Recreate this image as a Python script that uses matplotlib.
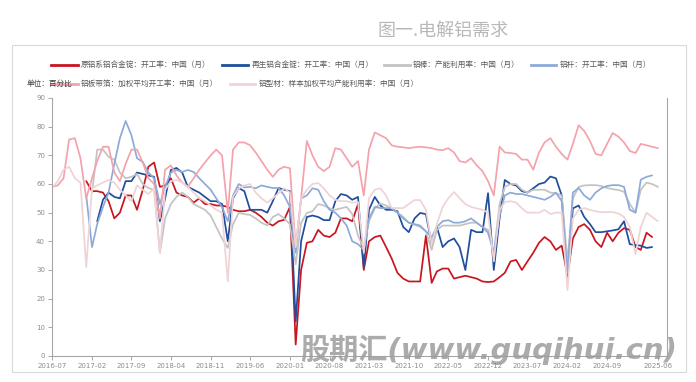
import matplotlib
matplotlib.use("Agg")
import matplotlib.pyplot as plt
import matplotlib.dates as mdates
from matplotlib.lines import Line2D
from matplotlib.patches import Rectangle
import numpy as np
import pandas as pd

plt.rcParams['font.family'] = ['Noto Sans CJK SC', 'DejaVu Sans']

# ---------------- data (monthly, 2016-07 .. 2025-06) ----------------
start = "2016-07-01"
n_months = 108
N = None

red = [N]*6 + [61, 57.5, 57.5, 57, 54, 48, 50, 56, 56, 51, 58, 66, 67.5, 59, 59.5, 62, 57, 56, 55.5, 53.5,
       55, 53, 53, 52.5, 52.5, 52, 51, 50.5, 50.5, 51, 50, 48.5, 46.5, 45.5, 47, 47.5, 52, 4, 30, 39.5,
       40, 44, 42, 41.5, 43, 48, 48, 47, 53, 30, 40, 41.5, 42, 38, 34, 29, 27, 26, 26, 26,
       42, 25.5, 29.5, 30.5, 30.5, 27, 27.5, 28, 27.5, 27, 26, 25.8, 26, 27.5, 29, 33, 33.5, 30, 33, 36,
       39.5, 41.5, 40, 37, 38.5, 28, 41, 45, 46, 44, 40, 38, 43, 40, 43, 44.6, 44, 38, 37, 43, 41.5] + [N]

dark_blue = [N]*8 + [47, 54.5, 57, 55.5, 55, 61, 61, 64, 63.5, 63, 62.5, 47, 55, 64.9, 65.6, 64, 59, 58,
       57, 55.5, 54, 54, 53, 40, 55, 58.6, 57.5, 51, 51, 51, 50, 54, 58.6, 58, 57.5, 12, 40, 48.5,
       49, 48.5, 47.4, 47.4, 54, 56.5, 56, 54.5, 55.5, 31, 51, 55.5, 52.5, 51, 51, 50.5, 45, 43.2, 48, 49.9,
       49.5, 39, 45, 38, 40, 41, 38, 30, 44, 43.2, 43.2, 56.8, 30, 48, 61.4, 60, 59.5, 57.5, 57, 58.5,
       60, 60.5, 62.6, 62, 56, 27.5, 51.5, 52.5, 48.5, 46, 43.2, 43.2, 43.5, 43.8, 44.2, 47, 39, 38.7, 38.5, 37.7,
       38] + [N]

gray = [N]*7 + [57, 72, 72, 69.5, 68.5, 64, 62, 62.5, 63.5, 60, 58.6, 58, 36, 48, 53, 55.5, 57, 55.5, 53,
       52, 51, 49, 45, 41, 37.7, 46, 49.9, 49.5, 49.2, 48, 46.5, 45.5, 48.5, 49.5, 48, 46, 32, 46.4, 49.9,
       50.5, 53, 52.5, 51.5, 51, 51.5, 52, 49.5, 42, 37.5, 47, 51.5, 53.2, 52.5, 51.5, 50, 48.5, 46.5, 45.8, 45,
       43.5, 37, 44, 45.5, 45.5, 45.5, 45.5, 46, 46.5, 46.5, 45, 44, 36, 53, 59, 60, 60, 58, 57, 58,
       58, 58, 57, 56.8, 56, 33, 55, 59, 59.5, 59.6, 59.6, 59.3, 58.6, 58.2, 57.9, 57.3, 53, 50, 58, 60.5,
       60, 59]

light_blue = [N]*6 + [56, 38, 46, 52, 57, 67, 76, 82, 77, 69, 67.7, 64, 62, 53, 59, 64, 64.9, 64.2, 64.9, 64.2,
       62, 60, 58, 55, 52, 47, 56, 60, 58.8, 59, 58.5, 59.5, 59, 58.6, 58.6, 56, 52, 36, 55, 56,
       58.5, 58, 54, 51, 50, 48, 45.5, 40, 39, 37, 48, 52, 51.6, 51.6, 51.5, 50, 48, 46.5, 46, 45.5,
       43.5, 41.5, 45, 47, 47.4, 46.5, 46.5, 47, 48, 46.5, 45, 43, 36, 49, 56, 57, 56.5, 56.5, 56, 55.5,
       55, 54.5, 55.5, 57, 54, 29, 57, 58.6, 56, 54.5, 57, 58.5, 59.3, 59.6, 59.6, 59, 51, 50, 61.5, 62.5,
       63] + [N]

pink = [59, 59.5, 62, 75.5, 76, 69, 55, 62, 68, 73, 73, 64, 61, 67, 72, 72, 67.5, 62, 60, 48,
        65, 66.5, 63, 60.5, 59, 62, 65, 67.5, 70, 72, 70, 50, 72, 74.5, 74.5, 73.5, 71, 68, 65, 62.5,
        65, 66, 65.5, 38, 55, 75, 70, 66, 64.5, 66, 72.5, 72, 69, 66, 68, 56, 72, 78, 77, 76,
        73.5, 73, 72.8, 72.5, 72.8, 73, 72.8, 72.5, 72, 71.8, 72.5, 71, 68, 67.5, 69, 66.5, 64.5, 61, 56, 73,
        71, 70.8, 70.5, 68.5, 68.5, 65, 71, 74.5, 76, 73, 70.5, 68.5, 74, 80.5, 78.5, 75, 70.5, 70, 74, 77.8,
        76.5, 74.5, 71.5, 70.8, 74, 73.5, 73, 72.5]

light_pink = [58.5, 61, 65, 66, 62, 60.5, 31, 58.6, 59.5, 60.5, 61.4, 60.5, 58, 56, 54, 59.5, 58, 56.5, 58.5, 36,
        58, 61, 61.4, 60.5, 59, 57, 55, 54, 52.5, 51, 50, 26, 55.5, 58.5, 59.5, 60, 57, 55, 53.5, 55,
        56.8, 58.5, 57, 38, 55, 58, 60, 60.3, 58.5, 56, 54.5, 54, 54, 53.5, 53.7, 36, 55, 58, 58.5, 56,
        51.6, 51.6, 51.6, 53, 54.4, 54.4, 51, 39, 46, 52, 55, 57.2, 55, 53, 52, 51.5, 51, 50, 33, 51,
        53.7, 54, 53.5, 51.5, 50, 50, 50, 51, 49.5, 50, 50, 23, 48, 51, 51.6, 51, 50.5, 50.2, 50.2, 50.2,
        49.7, 48.5, 45, 35.5, 45, 50, 48.5, 47]

series_names = ["原铝系铝合金锭：开工率：中国（月）", "再生铝合金锭：开工率：中国（月）",
                "铝棒：产能利用率：中国（月）", "铝杆：开工率：中国（月）",
                "铝板带箔：加权平均开工率：中国（月）", "铝型材：样本加权平均产能利用率：中国（月）"]
series_colors = ["#c8151f", "#1f4e9c", "#c3c3c3", "#8eaad8", "#f4a2ac", "#efd3d5"]
tick_labels = ["2016-07", "2017-02", "2017-09", "2018-04", "2018-11", "2019-06", "2020-01", "2020-08",
               "2021-03", "2021-10", "2022-05", "2022-12", "2023-07", "2024-02", "2024-09", "2025-06"]
yticks = [0, 10, 20, 30, 40, 50, 60, 70, 80, 90]

dates = pd.date_range(start, periods=n_months, freq="MS")
all_series = [red, dark_blue, gray, light_blue, pink, light_pink]

# ---------------- figure ----------------
W, H = 696, 382
fig = plt.figure(figsize=(W / 100, H / 100), dpi=100)

def fx(px):
    return px / W

def fy(py):
    return 1 - py / H

# outer frame
fig.add_artist(Rectangle((fx(12), fy(372)), fx(686) - fx(12), fy(45) - fy(372),
                         transform=fig.transFigure, fill=False, edgecolor="#d9d9d9", lw=0.8))

fig.text(fx(443), fy(31), "图一.电解铝需求", ha="center", va="center", fontsize=13,
         color="#b8b8b8")

ax = fig.add_axes([fx(52), fy(356), fx(667) - fx(52), fy(98) - fy(356)])

draw_order = [5, 4, 2, 3, 1, 0]
for i in draw_order:
    vals = np.array([np.nan if v is None else v for v in all_series[i]], dtype=float)
    ax.plot(dates, vals, color=series_colors[i], lw=1.25, solid_joinstyle="round",
            solid_capstyle="round", zorder=2 + i * 0.1)

ax.set_ylim(0, 90)
ax.set_xlim(pd.Timestamp("2016-07-01"), pd.Timestamp("2025-07-20"))
ax.set_yticks(yticks)
ax.set_yticklabels([str(v) for v in yticks])
ax.set_xticks([pd.Timestamp(t + "-01") for t in tick_labels])
ax.set_xticklabels(tick_labels)
ax.tick_params(axis="both", labelsize=5, colors="#9a9a9a", length=3, width=0.6,
               direction="out", pad=2)
for lab in ax.get_xticklabels() + ax.get_yticklabels():
    lab.set_family(["DejaVu Sans"])
    lab.set_color("#8c8c8c")
ax.spines["top"].set_visible(False)
for s in ["left", "bottom", "right"]:
    ax.spines[s].set_color("#a6a6a6")
    ax.spines[s].set_linewidth(0.8)
ax.set_facecolor("none")
ax.patch.set_visible(False)

# ---------------- legend ----------------
leg_font = 5.5
leg_col = "#5a5a5a"
row1, row2 = fy(65), fy(84)
legend_items = [
    (0, 51, 78, 81, row1),
    (1, 222, 248, 252, row1),
    (2, 384, 410, 413, row1),
    (3, 531, 556, 560, row1),
    (4, 51, 78, 81, row2),
    (5, 230, 255, 259, row2),
]
fig.text(fx(27), row2, "单位：百分比", fontsize=leg_font, color="#404040", va="center", ha="left")
for idx, x0, x1, tx, yy in legend_items:
    fig.add_artist(Line2D([fx(x0), fx(x1)], [yy, yy], transform=fig.transFigure,
                          color=series_colors[idx], lw=2.0))
    fig.text(fx(tx), yy, series_names[idx], fontsize=leg_font, color=leg_col, va="center", ha="left")

# watermark
fig.text(fx(300), fy(350), "股期汇(www.guqihui.cn)", fontsize=21, fontweight="bold",
         style="italic", color="#9c9c9c", alpha=0.85, va="center", ha="left",
         family=["DejaVu Sans", "Noto Sans CJK SC"], zorder=10)

fig.savefig("out.png", dpi=100)
